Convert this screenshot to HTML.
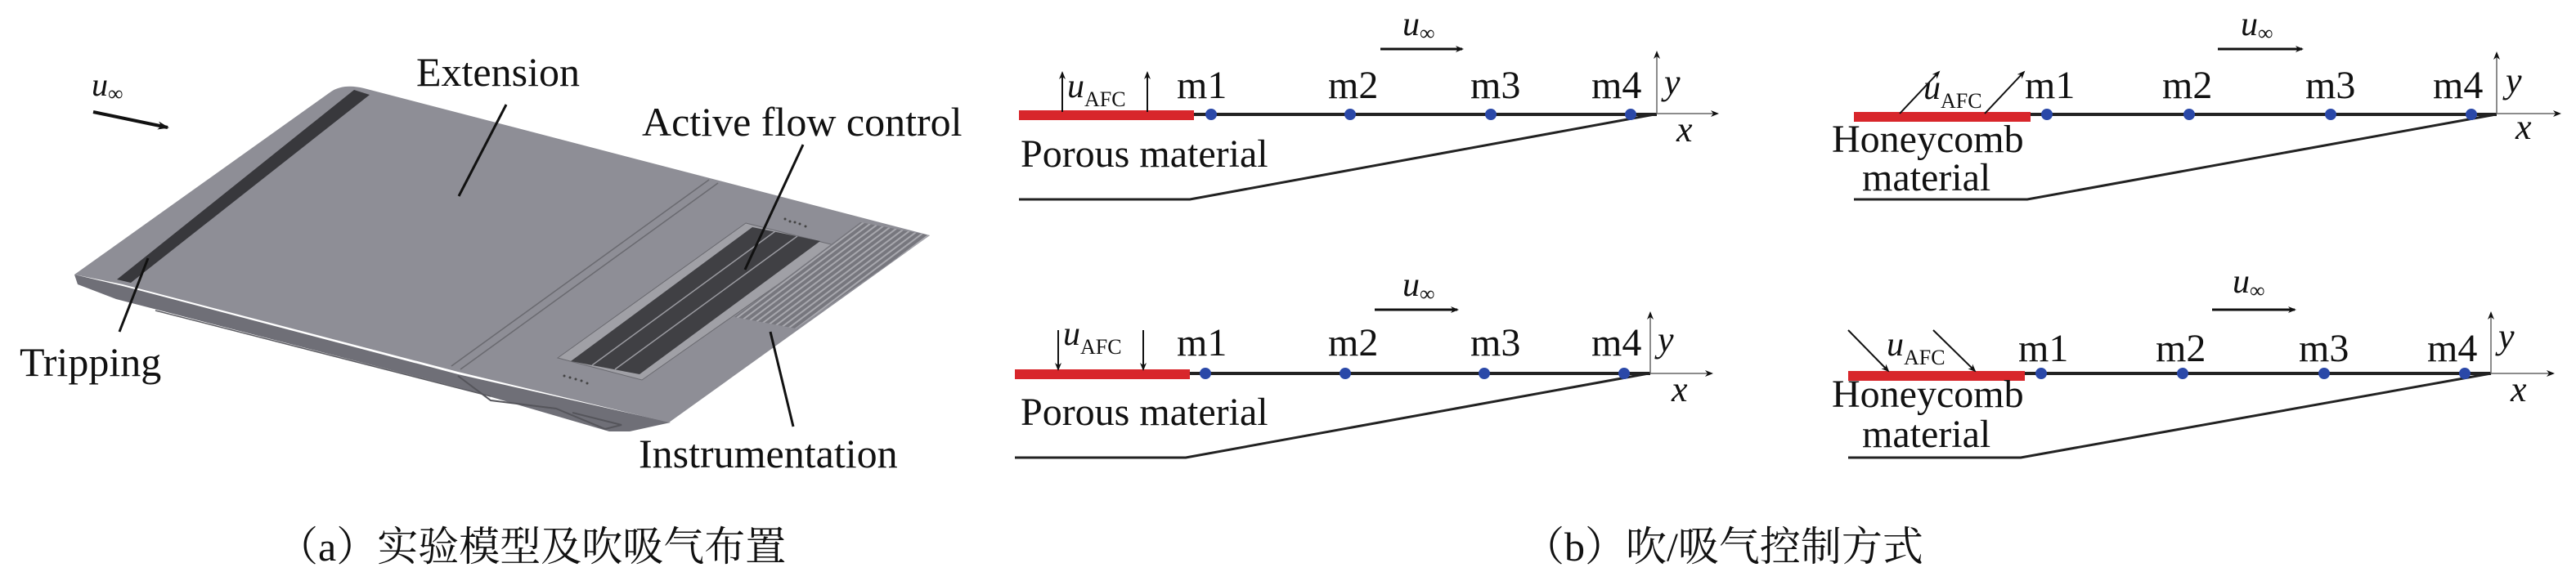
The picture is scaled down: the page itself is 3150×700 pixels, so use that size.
<!DOCTYPE html>
<html><head><meta charset="utf-8"><style>
html,body{margin:0;padding:0;background:#fff;}
svg{display:block;}
.s{font-family:"Liberation Serif",serif;}
.c{font-family:"Liberation Serif","Noto Serif CJK SC",serif;}
</style></head><body>
<svg width="3150" height="700" viewBox="0 0 3150 700" xmlns="http://www.w3.org/2000/svg" fill="#111">
<defs>
<marker id="ah" markerWidth="10" markerHeight="10" refX="8" refY="5" orient="auto" markerUnits="userSpaceOnUse"><path d="M0,1 L10,5 L0,9 L3,5 Z" fill="#111"/></marker>
<marker id="ahs" markerWidth="14" markerHeight="12" refX="12" refY="6" orient="auto" markerUnits="userSpaceOnUse"><path d="M0,1 L14,6 L0,11 L4,6 Z" fill="#111"/></marker>
<pattern id="grid" width="6" height="6" patternUnits="userSpaceOnUse" patternTransform="rotate(-37)"><rect width="6" height="6" fill="#77777e"/><rect width="6" height="2" fill="#a8a8ae"/></pattern>
</defs>
<path d="M91,336 L150,350 L560,458 L820,517 L770,528 L745,528 L560,474 L142,366 L95,348 Z" fill="#6f6f77"/>
<path d="M91,336 L405,112 Q420,102 445,108 L1137,288 L818,517 L560,455 L150,348 Z" fill="#8e8e96"/>
<path d="M433,110 L452,116 L160,346 L143,342 Z" fill="#38383c"/>
<line x1="867" y1="220" x2="552" y2="448" stroke="#6a6a70" stroke-width="1.5"/>
<line x1="878" y1="224" x2="563" y2="452" stroke="#6a6a70" stroke-width="1.5"/>
<line x1="190" y1="380" x2="600" y2="485" stroke="#5c5c62" stroke-width="1.5"/>
<path d="M912,273 L1020,300 L785,465 L682,438 Z" fill="#a0a0a6" stroke="#6a6a70" stroke-width="1"/>
<path d="M920,278 L1003,295 L782,458 L698,442 Z" fill="#404044"/>
<line x1="948" y1="283" x2="724" y2="447" stroke="#9a9aa0" stroke-width="1.5"/>
<line x1="975" y1="289" x2="752" y2="452" stroke="#9a9aa0" stroke-width="1.5"/>
<path d="M1052,272 L1137,288 L973,402 L898,388 Z" fill="url(#grid)"/>
<g fill="#444">
<circle cx="960" cy="268" r="1.5"/><circle cx="966" cy="271" r="1.5"/><circle cx="972" cy="272" r="1.5"/><circle cx="978" cy="274" r="1.5"/><circle cx="985" cy="277" r="1.5"/>
<circle cx="690" cy="460" r="1.5"/><circle cx="697" cy="462" r="1.5"/><circle cx="704" cy="464" r="1.5"/><circle cx="711" cy="466" r="1.5"/><circle cx="718" cy="469" r="1.5"/>
</g>
<path d="M560,460 L600,490 L680,500 L740,525 L760,520 L700,505" fill="none" stroke="#55555b" stroke-width="2"/>
<g class="s">
<text x="509" y="105" font-size="50">Extension</text>
<text x="785" y="166" font-size="50">Active flow control</text>
<text x="24" y="460" font-size="50">Tripping</text>
<text x="781" y="572" font-size="50">Instrumentation</text>
<text x="112" y="117" font-size="40" font-style="italic">u<tspan font-size="26" font-style="normal" dy="6">∞</tspan></text>
</g>
<line x1="619" y1="128" x2="561" y2="240" stroke="#111" stroke-width="3"/>
<line x1="982" y1="177" x2="911" y2="330" stroke="#111" stroke-width="3"/>
<line x1="181" y1="316" x2="146" y2="406" stroke="#111" stroke-width="3"/>
<line x1="942" y1="406" x2="970" y2="522" stroke="#111" stroke-width="3"/>
<line x1="114" y1="137" x2="205" y2="156" stroke="#111" stroke-width="4" marker-end="url(#ahs)"/>
<text class="c" x="339" y="686" font-size="50">（a）实验模型及吹吸气布置</text>

<g stroke-linecap="butt">
<line x1="1460" y1="140" x2="2026" y2="140" stroke="#222" stroke-width="4"/>
<rect x="1246" y="135" width="214" height="12" fill="#d8262b"/>
<polyline points="1246,244 1455,244 2023,140" fill="none" stroke="#222" stroke-width="3"/>
<line x1="2026" y1="139" x2="2026" y2="64" stroke="#666" stroke-width="1.5" marker-end="url(#ah)"/>
<line x1="2026" y1="139" x2="2100" y2="139" stroke="#666" stroke-width="1.5" marker-end="url(#ah)"/>
<line x1="1688" y1="60" x2="1788" y2="60" stroke="#111" stroke-width="3" marker-end="url(#ah)"/>
<line x1="1299" y1="137" x2="1299" y2="89" stroke="#111" stroke-width="2" marker-end="url(#ah)"/>
<line x1="1403" y1="137" x2="1403" y2="89" stroke="#111" stroke-width="2" marker-end="url(#ah)"/>
<g fill="#2a48a8"><ellipse cx="1481" cy="140" rx="7" ry="7"/><ellipse cx="1651" cy="140" rx="7" ry="7"/><ellipse cx="1823" cy="140" rx="7" ry="7"/><ellipse cx="1994" cy="140" rx="7" ry="7"/></g>

<line x1="1455" y1="457" x2="2018" y2="457" stroke="#222" stroke-width="4"/>
<rect x="1241" y="452" width="214" height="12" fill="#d8262b"/>
<polyline points="1241,560 1450,560 2016,457" fill="none" stroke="#222" stroke-width="3"/>
<line x1="2018" y1="457" x2="2018" y2="383" stroke="#666" stroke-width="1.5" marker-end="url(#ah)"/>
<line x1="2018" y1="457" x2="2093" y2="457" stroke="#666" stroke-width="1.5" marker-end="url(#ah)"/>
<line x1="1681" y1="379" x2="1782" y2="379" stroke="#111" stroke-width="3" marker-end="url(#ah)"/>
<line x1="1294" y1="404" x2="1294" y2="452" stroke="#111" stroke-width="2" marker-end="url(#ah)"/>
<line x1="1398" y1="404" x2="1398" y2="452" stroke="#111" stroke-width="2" marker-end="url(#ah)"/>
<g fill="#2a48a8"><ellipse cx="1474" cy="457" rx="7" ry="7"/><ellipse cx="1645" cy="457" rx="7" ry="7"/><ellipse cx="1815" cy="457" rx="7" ry="7"/><ellipse cx="1986" cy="457" rx="7" ry="7"/></g>

<line x1="2483" y1="140" x2="3053" y2="140" stroke="#222" stroke-width="4"/>
<rect x="2267" y="137" width="216" height="12" fill="#d8262b"/>
<polyline points="2267,244 2479,244 3052,140" fill="none" stroke="#222" stroke-width="3"/>
<line x1="3053" y1="139" x2="3053" y2="65" stroke="#666" stroke-width="1.5" marker-end="url(#ah)"/>
<line x1="3053" y1="139" x2="3130" y2="139" stroke="#666" stroke-width="1.5" marker-end="url(#ah)"/>
<line x1="2712" y1="60" x2="2815" y2="60" stroke="#111" stroke-width="3" marker-end="url(#ah)"/>
<line x1="2323" y1="139" x2="2371" y2="88" stroke="#111" stroke-width="2" marker-end="url(#ah)"/>
<line x1="2427" y1="139" x2="2475" y2="88" stroke="#111" stroke-width="2" marker-end="url(#ah)"/>
<g fill="#2a48a8"><ellipse cx="2503" cy="140" rx="7" ry="7"/><ellipse cx="2677" cy="140" rx="7" ry="7"/><ellipse cx="2850" cy="140" rx="7" ry="7"/><ellipse cx="3022" cy="140" rx="7" ry="7"/></g>

<line x1="2476" y1="457" x2="3046" y2="457" stroke="#222" stroke-width="4"/>
<rect x="2260" y="454" width="216" height="12" fill="#d8262b"/>
<polyline points="2260,560 2471,560 3046,457" fill="none" stroke="#222" stroke-width="3"/>
<line x1="3046" y1="457" x2="3046" y2="383" stroke="#666" stroke-width="1.5" marker-end="url(#ah)"/>
<line x1="3046" y1="457" x2="3122" y2="457" stroke="#666" stroke-width="1.5" marker-end="url(#ah)"/>
<line x1="2705" y1="379" x2="2806" y2="379" stroke="#111" stroke-width="3" marker-end="url(#ah)"/>
<line x1="2260" y1="404" x2="2309" y2="454" stroke="#111" stroke-width="2" marker-end="url(#ah)"/>
<line x1="2364" y1="404" x2="2415" y2="454" stroke="#111" stroke-width="2" marker-end="url(#ah)"/>
<g fill="#2a48a8"><ellipse cx="2496" cy="457" rx="7" ry="7"/><ellipse cx="2669" cy="457" rx="7" ry="7"/><ellipse cx="2842" cy="457" rx="7" ry="7"/><ellipse cx="3014" cy="457" rx="7" ry="7"/></g>
</g>
<g class="s" font-size="48">
<text x="1439" y="120">m1</text><text x="1624" y="120">m2</text><text x="1798" y="120">m3</text><text x="1946" y="120">m4</text>
<text x="1439" y="435">m1</text><text x="1624" y="435">m2</text><text x="1798" y="435">m3</text><text x="1946" y="435">m4</text>
<text x="2476" y="120">m1</text><text x="2644" y="120">m2</text><text x="2819" y="120">m3</text><text x="2975" y="120">m4</text>
<text x="2468" y="442">m1</text><text x="2636" y="442">m2</text><text x="2811" y="442">m3</text><text x="2968" y="442">m4</text>
<text x="1248" y="204">Porous material</text>
<text x="1248" y="520">Porous material</text>
<text x="2240" y="186">Honeycomb</text><text x="2277" y="233">material</text>
<text x="2240" y="498">Honeycomb</text><text x="2277" y="547">material</text>
</g>
<g class="s" font-size="44" font-style="italic">
<text x="2035" y="115">y</text><text x="2050" y="173">x</text>
<text x="2027" y="430">y</text><text x="2044" y="491">x</text>
<text x="3064" y="113">y</text><text x="3076" y="170">x</text>
<text x="3055" y="426">y</text><text x="3070" y="491">x</text>
</g>
<g class="s" font-size="42">
<text x="1715" y="43" font-style="italic">u<tspan font-size="26" font-style="normal" dy="6">∞</tspan></text>
<text x="1715" y="362" font-style="italic">u<tspan font-size="26" font-style="normal" dy="6">∞</tspan></text>
<text x="2740" y="43" font-style="italic">u<tspan font-size="26" font-style="normal" dy="6">∞</tspan></text>
<text x="2730" y="358" font-style="italic">u<tspan font-size="26" font-style="normal" dy="6">∞</tspan></text>
<text x="1305" y="119" font-style="italic">u<tspan font-size="26" font-style="normal" dy="11">AFC</tspan></text>
<text x="1300" y="422" font-style="italic">u<tspan font-size="26" font-style="normal" dy="11">AFC</tspan></text>
<text x="2352" y="121" font-style="italic">u<tspan font-size="26" font-style="normal" dy="11">AFC</tspan></text>
<text x="2307" y="435" font-style="italic">u<tspan font-size="26" font-style="normal" dy="11">AFC</tspan></text>
</g>
<text class="c" x="1863" y="686" font-size="50">（b）吹/吸气控制方式</text>
</svg>
</body></html>
